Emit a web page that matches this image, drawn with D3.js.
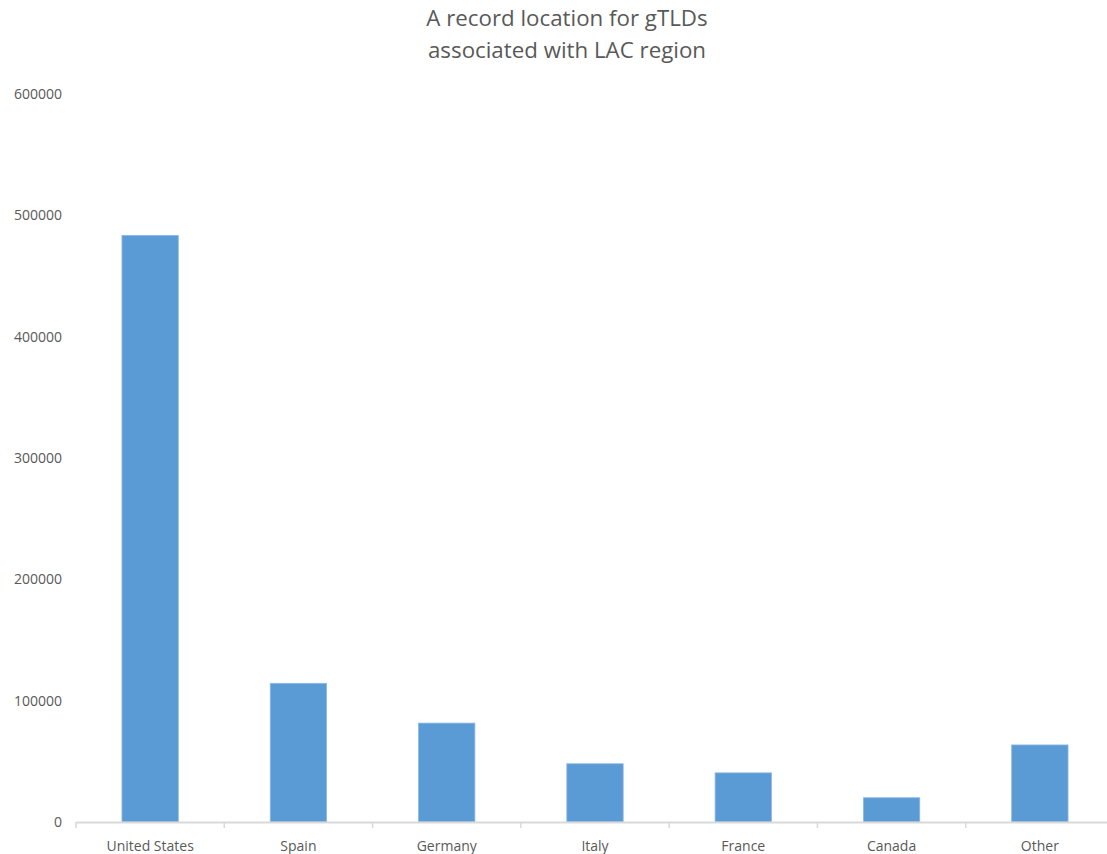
<html>
<head>
<title>A record location for gTLDs</title>
<script src="https://d3js.org/d3.v7.min.js"></script>
<style>
body { margin: 0; background: #fff; font-family: 'Open Sans', 'Liberation Sans', sans-serif; }
text { fill: #595959; }
</style>
</head>
<body>
<svg width="1107" height="854"></svg>
<script>
var countries = ["United States", "Spain", "Germany", "Italy", "France", "Canada", "Other"];
var records = [483500, 114300, 81500, 48000, 40500, 20000, 63500];
var yTicks = [0, 100000, 200000, 300000, 400000, 500000, 600000];
var titleLines = ["A record location for gTLDs", "associated with LAC region"];

var svg = d3.select("svg");

var x = d3.scaleBand().domain(countries).range([76, 1114])
    .paddingInner(0.62).paddingOuter(0.31);
var y = d3.scaleLinear().domain([0, 600000]).range([822, 94]);

// title
svg.selectAll("text.title").data(titleLines).enter().append("text")
    .attr("class", "title")
    .attr("x", 567)
    .attr("y", function(d, i) { return 26 + i * 32; })
    .attr("text-anchor", "middle")
    .style("font-size", "22.3px")
    .text(function(d) { return d; });

// y labels (no axis line in the original)
svg.selectAll("text.ylab").data(yTicks).enter().append("text")
    .attr("class", "ylab")
    .attr("x", 62)
    .attr("y", function(d) { return y(d); })
    .attr("dy", "0.35em")
    .attr("text-anchor", "end")
    .style("font-size", "14px")
    .text(function(d) { return d; });

// bars
svg.selectAll("rect.bar").data(countries).enter().append("rect")
    .attr("class", "bar")
    .attr("x", function(d) { return x(d); })
    .attr("width", x.bandwidth())
    .attr("y", function(d, i) { return y(records[i]); })
    .attr("height", function(d, i) { return y(0) - y(records[i]); })
    .style("fill", "#5b9bd5")
    .style("stroke", "#8cb8e2")
    .style("stroke-width", 0.8);

// x axis line with ticks between categories
var step = x.step();
var start = x(countries[0]) - x.paddingOuter() * step;
svg.append("line")
    .attr("x1", start).attr("x2", 1107)
    .attr("y1", y(0) + 0.5).attr("y2", y(0) + 0.5)
    .style("stroke", "#d9d9d9").style("stroke-width", 2);
svg.selectAll("line.tick").data(d3.range(countries.length + 1)).enter().append("line")
    .attr("class", "tick")
    .attr("x1", function(i) { return start + i * step; })
    .attr("x2", function(i) { return start + i * step; })
    .attr("y1", y(0)).attr("y2", y(0) + 6)
    .style("stroke", "#d9d9d9").style("stroke-width", 1.5);

svg.selectAll("text.xlab").data(countries).enter().append("text")
    .attr("class", "xlab")
    .attr("x", function(d) { return x(d) + x.bandwidth() / 2; })
    .attr("y", 851)
    .attr("text-anchor", "middle")
    .style("font-size", "14px")
    .text(function(d) { return d; });
</script>
</body>
</html>
